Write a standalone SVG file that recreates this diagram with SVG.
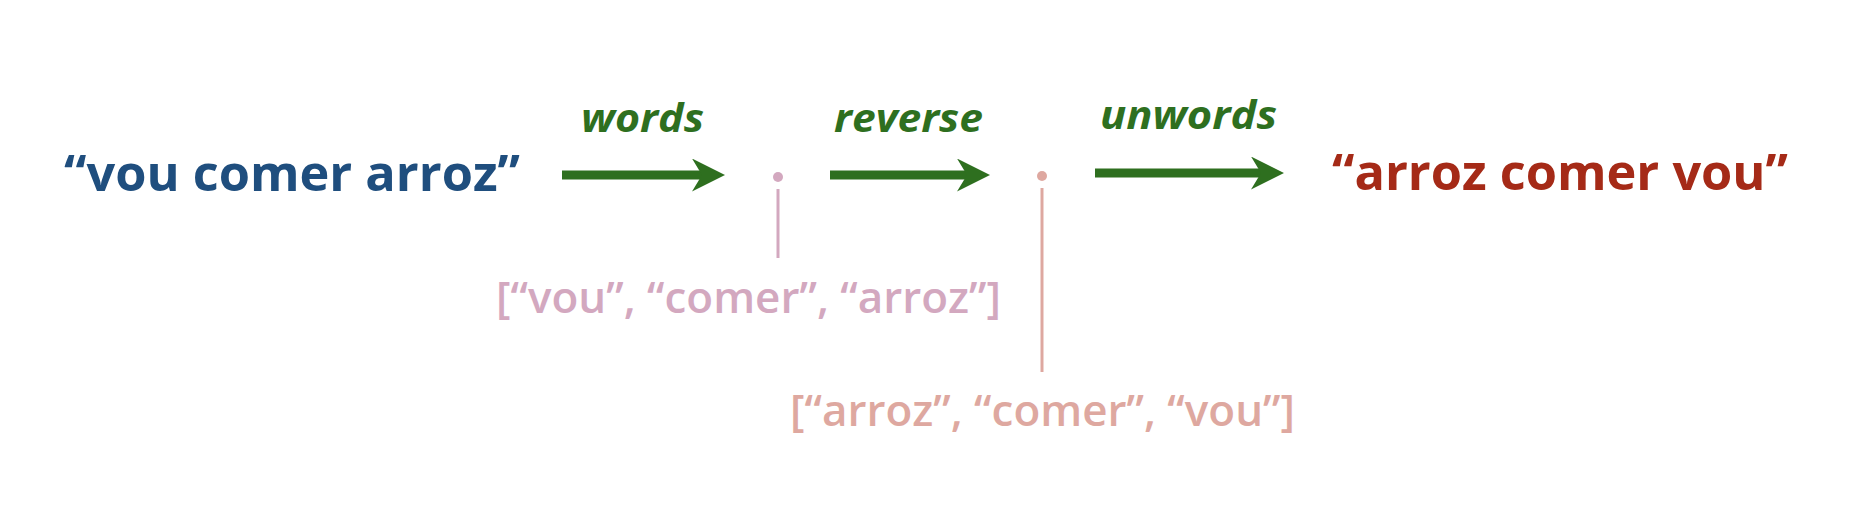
<svg xmlns="http://www.w3.org/2000/svg" width="1860" height="524" viewBox="0 0 1860 524">
  <style>
    .main { font-family: "Open Sans", "Liberation Sans", sans-serif; font-weight: 700; font-size: 50px; }
    .fn { font-family: "Open Sans", "Liberation Sans", sans-serif; font-weight: 700; font-style: italic; font-size: 40px; fill: #2e6f1f; }
    .lst { font-family: "Open Sans", "Liberation Sans", sans-serif; font-weight: 600; font-size: 43px; }
    .arrow { stroke: #2e6f1f; stroke-width: 9; fill: none; }
  </style>
  <defs>
    <marker id="head" markerUnits="userSpaceOnUse" markerWidth="34" markerHeight="34" refX="13" refY="16.5" orient="auto" viewBox="0 0 34 34">
      <path d="M0,0 L33,16.5 L0,33 L10,16.5 z" fill="#2e6f1f"/>
    </marker>
  </defs>
  <rect width="1860" height="524" fill="#ffffff"/>

  <g id="input">
    <text class="main" x="64" y="191" fill="#1f4e7e" textLength="456" lengthAdjust="spacingAndGlyphs">“vou comer arroz”</text>
  </g>

  <g id="output">
    <text class="main" x="1332" y="190" fill="#a52a17" textLength="456" lengthAdjust="spacingAndGlyphs">“arroz comer vou”</text>
  </g>

  <g id="list1">
    <circle cx="778" cy="177" r="5" fill="#d3a8bf"/>
    <line x1="778" y1="189" x2="778" y2="258" stroke="#d3a8bf" stroke-width="3"/>
    <text class="lst" x="496" y="313" fill="#d3a8bf" textLength="505" lengthAdjust="spacingAndGlyphs">[“vou”, “comer”, “arroz”]</text>
  </g>

  <g id="list2">
    <circle cx="1042" cy="176" r="5" fill="#dea8a0"/>
    <line x1="1042" y1="188" x2="1042" y2="372" stroke="#dea8a0" stroke-width="3"/>
    <text class="lst" x="790" y="426" fill="#dea8a0" textLength="505" lengthAdjust="spacingAndGlyphs">[“arroz”, “comer”, “vou”]</text>
  </g>

  <g id="connectors">
    <g id="edge-words">
      <path class="arrow" d="M562,175 L705,175" marker-end="url(#head)"/>
      <text class="fn" x="581" y="132" textLength="123" lengthAdjust="spacingAndGlyphs">words</text>
    </g>
    <g id="edge-reverse">
      <path class="arrow" d="M830,175 L970,175" marker-end="url(#head)"/>
      <text class="fn" x="834" y="132" textLength="149" lengthAdjust="spacingAndGlyphs">reverse</text>
    </g>
    <g id="edge-unwords">
      <path class="arrow" d="M1095,173 L1264,173" marker-end="url(#head)"/>
      <text class="fn" x="1100" y="129" textLength="177" lengthAdjust="spacingAndGlyphs">unwords</text>
    </g>
  </g>
</svg>
